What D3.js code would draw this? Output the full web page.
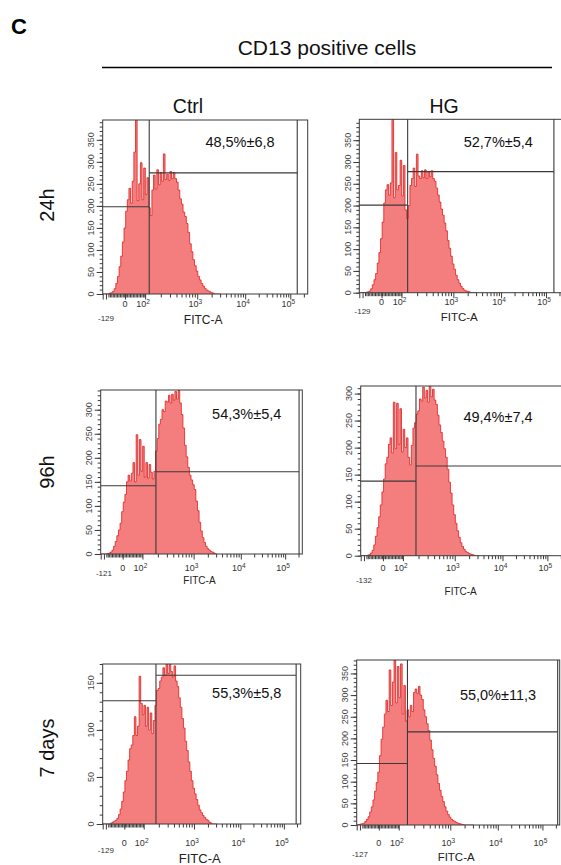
<!DOCTYPE html>
<html><head><meta charset="utf-8">
<script src="https://cdn.jsdelivr.net/npm/d3@7"></script>
<style>
body{margin:0;background:#fff}
svg{display:block}
text{font-family:"Liberation Sans",Arial,Helvetica,sans-serif}
</style>
</head><body>
<svg id="chart" width="561" height="865"></svg>
<script>
// ---------------- data ----------------
const figureLetter = "C";
const figureTitle = "CD13 positive cells";
const conditions = ["Ctrl", "HG"];
const timepoints = ["24h", "96h", "7 days"];
const axisTitle = "FITC-A";

// histogram bins on the display channel scale (0..1000), each bin 8 channels wide, starting at channel 0
const binStart = 0;
const binWidth = 8;
const channelDomain = [0, 1000];

const counts24hCtrl = [0,0,0,0,2,3,6,12,24,40,62,86,118,150,188,214,240,206,256,322,396,212,250,298,214,286,226,264,196,178,236,270,238,282,248,276,256,318,260,272,258,278,262,276,262,254,236,216,204,186,176,160,140,114,96,78,64,52,40,32,24,18,13,9,7,5,3,2,0,0,0,0];
const counts24hHG = [0,0,0,0,1,2,4,9,18,30,44,68,92,124,162,206,236,248,224,252,398,218,322,236,246,304,222,292,190,170,200,246,262,286,244,318,268,262,280,264,282,262,278,266,280,262,256,240,224,208,192,178,160,142,120,102,84,66,54,40,30,22,15,10,6,4,3,2,0,0,0,0];
const counts96hCtrl = [0,0,0,0,1,2,4,8,16,26,38,50,64,88,108,124,150,164,152,168,190,150,248,164,238,172,224,160,190,158,186,170,156,172,214,240,270,280,300,296,318,316,330,314,332,320,338,322,341,314,290,262,226,202,180,164,154,144,134,110,90,66,48,34,24,16,11,8,5,4,2,0];
const counts96hHG = [0,0,0,0,1,2,5,10,20,36,52,72,94,118,142,170,182,206,218,190,284,198,282,206,272,192,234,200,218,182,168,204,236,246,262,268,290,286,312,292,306,284,314,294,308,288,280,260,242,228,212,198,182,160,136,116,94,76,60,46,34,24,17,12,8,6,4,3,2,1,0,0];
const counts7dCtrl = [0,0,0,0,0,1,2,3,4,6,10,16,24,34,46,56,68,80,84,94,114,94,104,157,128,116,126,104,124,100,118,96,110,126,142,144,152,156,166,158,170,160,170,162,156,168,152,146,134,124,112,102,88,78,66,56,46,38,32,26,20,15,12,9,7,5,4,2,1,0,0,0];
const counts7dHG = [0,1,2,3,4,8,13,19,30,42,58,78,98,122,160,198,226,256,288,262,358,276,330,381,282,366,294,372,256,322,240,266,250,276,262,306,314,304,320,300,290,266,250,234,218,196,174,154,136,116,96,80,66,54,42,32,24,18,13,10,8,6,4,3,2,1,0,0,0,0,0,0];

const panelCounts = [counts24hCtrl, counts24hHG, counts96hCtrl, counts96hHG, counts7dCtrl, counts7dHG];
const yMax = [395, 398, 341, 314, 170, 381];
const yMajorStep = 50;
const yMinorStep = 10;

// x axis tick values (display channels) and labels
const xTickChannels = [109, 207, 461, 695, 915];
const xTickBase = ["0", "10", "10", "10", "10"];
const xTickExp = ["", "2", "3", "4", "5"];
const xMinChannel = 16;
const xMinLabels = ["-129", "-129", "-121", "-132", "-129", "-127"];

// gates: split channel, end channel, left marker level, right marker level
const gateSplit = [227, 237, 274, 271, 269, 250];
const gateEnd = [949, 954, 984, 990, 977, 990];
const gateLowLevel = [198, 201, 142, 138, 131, 142];
const gateHighLevel = [275, 278, 171, 166, 158, 215];
const percentLabels = ["48,5%±6,8", "52,7%±5,4", "54,3%±5,4", "49,4%±7,4", "55,3%±5,8", "55,0%±11,3"];

// ---------------- layout ----------------
const W = 561, H = 865;
const panelLayout = [
  {left:102.7, top:120,   w:205,   h:174,   tickDy:9.5, minDy:24.3, fitcDy:26,  fitcSize:12,   pctX:240,   pctY:141.7},
  {left:359.3, top:119.3, w:204,   h:173.4, tickDy:9,   minDy:18.5, fitcDy:24,  fitcSize:11.5, pctX:498.3, pctY:141.7},
  {left:100.7, top:390,   w:201.6, h:164,   tickDy:13.5,minDy:19,   fitcDy:26,  fitcSize:10,   pctX:246.7, pctY:414},
  {left:360.7, top:386,   w:204,   h:169.7, tickDy:12,  minDy:25,   fitcDy:36,  fitcSize:10,   pctX:498,   pctY:416.7},
  {left:102.7, top:664,   w:198,   h:160,   tickDy:18.5,minDy:26,   fitcDy:34,  fitcSize:13,   pctX:246.7, pctY:693},
  {left:356.7, top:660,   w:203,   h:165,   tickDy:18.3,minDy:29,   fitcDy:32,  fitcSize:11.5, pctX:498,   pctY:695}
];
const colHeaderPos = [{x:188, y:106}, {x:444, y:106}];
const rowLabelPos = [{x:47, y:205}, {x:47, y:472}, {x:47, y:748}];

const FILL = "#f47e7d", STROKE = "#de1f1f", FRAME = "#3a3a3a";

const svg = d3.select("#chart");
svg.append("rect").attr("width", W).attr("height", H).attr("fill", "#fff");

// header
svg.append("text").attr("x", 11).attr("y", 34).attr("font-size", 22).attr("font-weight", "bold").attr("fill", "#000").text(figureLetter);
svg.append("text").attr("x", 327).attr("y", 55).attr("text-anchor", "middle").attr("font-size", 21).attr("fill", "#111").text(figureTitle);
svg.append("line").attr("x1", 102).attr("x2", 552).attr("y1", 67.5).attr("y2", 67.5).attr("stroke", "#000").attr("stroke-width", 1.6);

conditions.forEach((c, i) => {
  svg.append("text").attr("x", colHeaderPos[i].x).attr("y", colHeaderPos[i].y)
    .attr("text-anchor", "middle").attr("dominant-baseline", "central")
    .attr("font-size", 19.5).attr("fill", "#111").text(c);
});
timepoints.forEach((t, i) => {
  svg.append("text").attr("transform", `translate(${rowLabelPos[i].x},${rowLabelPos[i].y}) rotate(-90)`)
    .attr("text-anchor", "middle").attr("dominant-baseline", "central")
    .attr("font-size", 20).attr("fill", "#111").text(t);
});

panelLayout.forEach((L, p) => {
  const g = svg.append("g");
  const x = d3.scaleLinear().domain(channelDomain).range([L.left, L.left + L.w]);
  const y = d3.scaleLinear().domain([0, yMax[p]]).range([L.top + L.h, L.top]);
  const clipId = "clip" + p;
  g.append("clipPath").attr("id", clipId).append("rect")
    .attr("x", L.left).attr("y", L.top).attr("width", L.w).attr("height", L.h);

  const counts = panelCounts[p];
  const pts = counts.map((v, i) => ({c: binStart + i * binWidth, v}));
  pts.push({c: binStart + counts.length * binWidth, v: 0});

  const area = d3.area().curve(d3.curveStepAfter).x(d => x(d.c)).y0(y(0)).y1(d => y(d.v));
  const line = d3.line().curve(d3.curveStepAfter).x(d => x(d.c)).y(d => y(d.v));
  const hg = g.append("g").attr("clip-path", `url(#${clipId})`);
  hg.append("path").datum(pts).attr("d", area).attr("fill", FILL);
  hg.append("path").datum(pts).attr("d", line).attr("fill", "none").attr("stroke", STROKE).attr("stroke-width", 0.8);

  // y axis: minor and major ticks
  const yMinor = d3.range(0, yMax[p] + 0.1, yMinorStep);
  const yMajor = d3.range(0, yMax[p] + 0.1, yMajorStep);
  g.append("g").attr("transform", `translate(${L.left},0)`)
    .call(d3.axisLeft(y).tickValues(yMinor).tickSize(3).tickFormat(""))
    .call(a => a.select(".domain").remove())
    .call(a => a.selectAll("line").attr("stroke", FRAME));
  g.append("g").attr("transform", `translate(${L.left},0)`)
    .call(d3.axisLeft(y).tickValues(yMajor).tickSize(6).tickFormat(""))
    .call(a => a.select(".domain").remove())
    .call(a => a.selectAll("line").attr("stroke", FRAME));
  g.append("g").selectAll("text").data(yMajor).join("text")
    .attr("transform", d => `translate(${L.left - 11.5},${y(d)}) rotate(-90)`)
    .attr("text-anchor", "middle").attr("dominant-baseline", "central")
    .attr("font-size", 9).attr("fill", "#444").text(d => d);

  // x axis ticks
  const xMajor = [0, xMinChannel].concat(xTickChannels);
  const linMinor = d3.range(28, 204, 7);
  const logMinor = [];
  for (let k = 1; k < xTickChannels.length; k++) {
    const a = xTickChannels[k], b = k + 1 < xTickChannels.length ? xTickChannels[k + 1] : xTickChannels[k] + (xTickChannels[k] - xTickChannels[k - 1]);
    for (let m = 2; m <= 9; m++) {
      const c = a + (b - a) * Math.log10(m);
      if (c < channelDomain[1] - 8) logMinor.push(c);
    }
  }
  g.append("g").attr("transform", `translate(0,${L.top + L.h})`)
    .call(d3.axisBottom(x).tickValues(linMinor.concat(logMinor)).tickSize(3.5).tickFormat(""))
    .call(a => a.select(".domain").remove())
    .call(a => a.selectAll("line").attr("stroke", FRAME));
  g.append("g").attr("transform", `translate(0,${L.top + L.h})`)
    .call(d3.axisBottom(x).tickValues(xMajor).tickSize(5.5).tickFormat(""))
    .call(a => a.select(".domain").remove())
    .call(a => a.selectAll("line").attr("stroke", FRAME));

  // x labels
  const lab = g.append("g").selectAll("text").data(xTickChannels).join("text")
    .attr("x", (d, i) => x(d) - (xTickExp[i] ? 2 : 0))
    .attr("y", L.top + L.h + L.tickDy)
    .attr("text-anchor", "middle").attr("dominant-baseline", "central")
    .attr("font-size", 9).attr("fill", "#333");
  lab.append("tspan").text((d, i) => xTickBase[i]);
  lab.append("tspan").attr("dy", -3).attr("font-size", 6.5).text((d, i) => xTickExp[i]);
  g.append("text").attr("x", x(xMinChannel)).attr("y", L.top + L.h + L.minDy)
    .attr("text-anchor", "middle").attr("dominant-baseline", "central")
    .attr("font-size", 8).attr("fill", "#333").text(xMinLabels[p]);
  g.append("text")
    .attr("x", L.left + L.w * 0.49).attr("y", L.top + L.h + L.fitcDy)
    .attr("text-anchor", "middle").attr("dominant-baseline", "central")
    .attr("font-size", L.fitcSize).attr("fill", "#222").text(axisTitle);

  // frame
  g.append("rect").attr("x", L.left).attr("y", L.top).attr("width", L.w).attr("height", L.h)
    .attr("fill", "none").attr("stroke", FRAME).attr("stroke-width", 1);

  // gates
  const gs = x(gateSplit[p]), ge = Math.min(x(gateEnd[p]), L.left + L.w);
  g.append("line").attr("x1", gs).attr("x2", gs).attr("y1", L.top).attr("y2", L.top + L.h).attr("stroke", FRAME).attr("stroke-width", 1.1);
  g.append("line").attr("x1", ge).attr("x2", ge).attr("y1", L.top).attr("y2", L.top + L.h).attr("stroke", FRAME).attr("stroke-width", 1.1);
  g.append("line").attr("x1", L.left).attr("x2", gs).attr("y1", y(gateLowLevel[p])).attr("y2", y(gateLowLevel[p])).attr("stroke", FRAME).attr("stroke-width", 1.1);
  g.append("line").attr("x1", gs).attr("x2", ge).attr("y1", y(gateHighLevel[p])).attr("y2", y(gateHighLevel[p])).attr("stroke", FRAME).attr("stroke-width", 1.1);

  g.append("text").attr("x", L.pctX).attr("y", L.pctY).attr("text-anchor", "middle").attr("dominant-baseline", "central")
    .attr("font-size", 14.5).attr("fill", "#111").text(percentLabels[p]);
});
</script>
</body></html>
